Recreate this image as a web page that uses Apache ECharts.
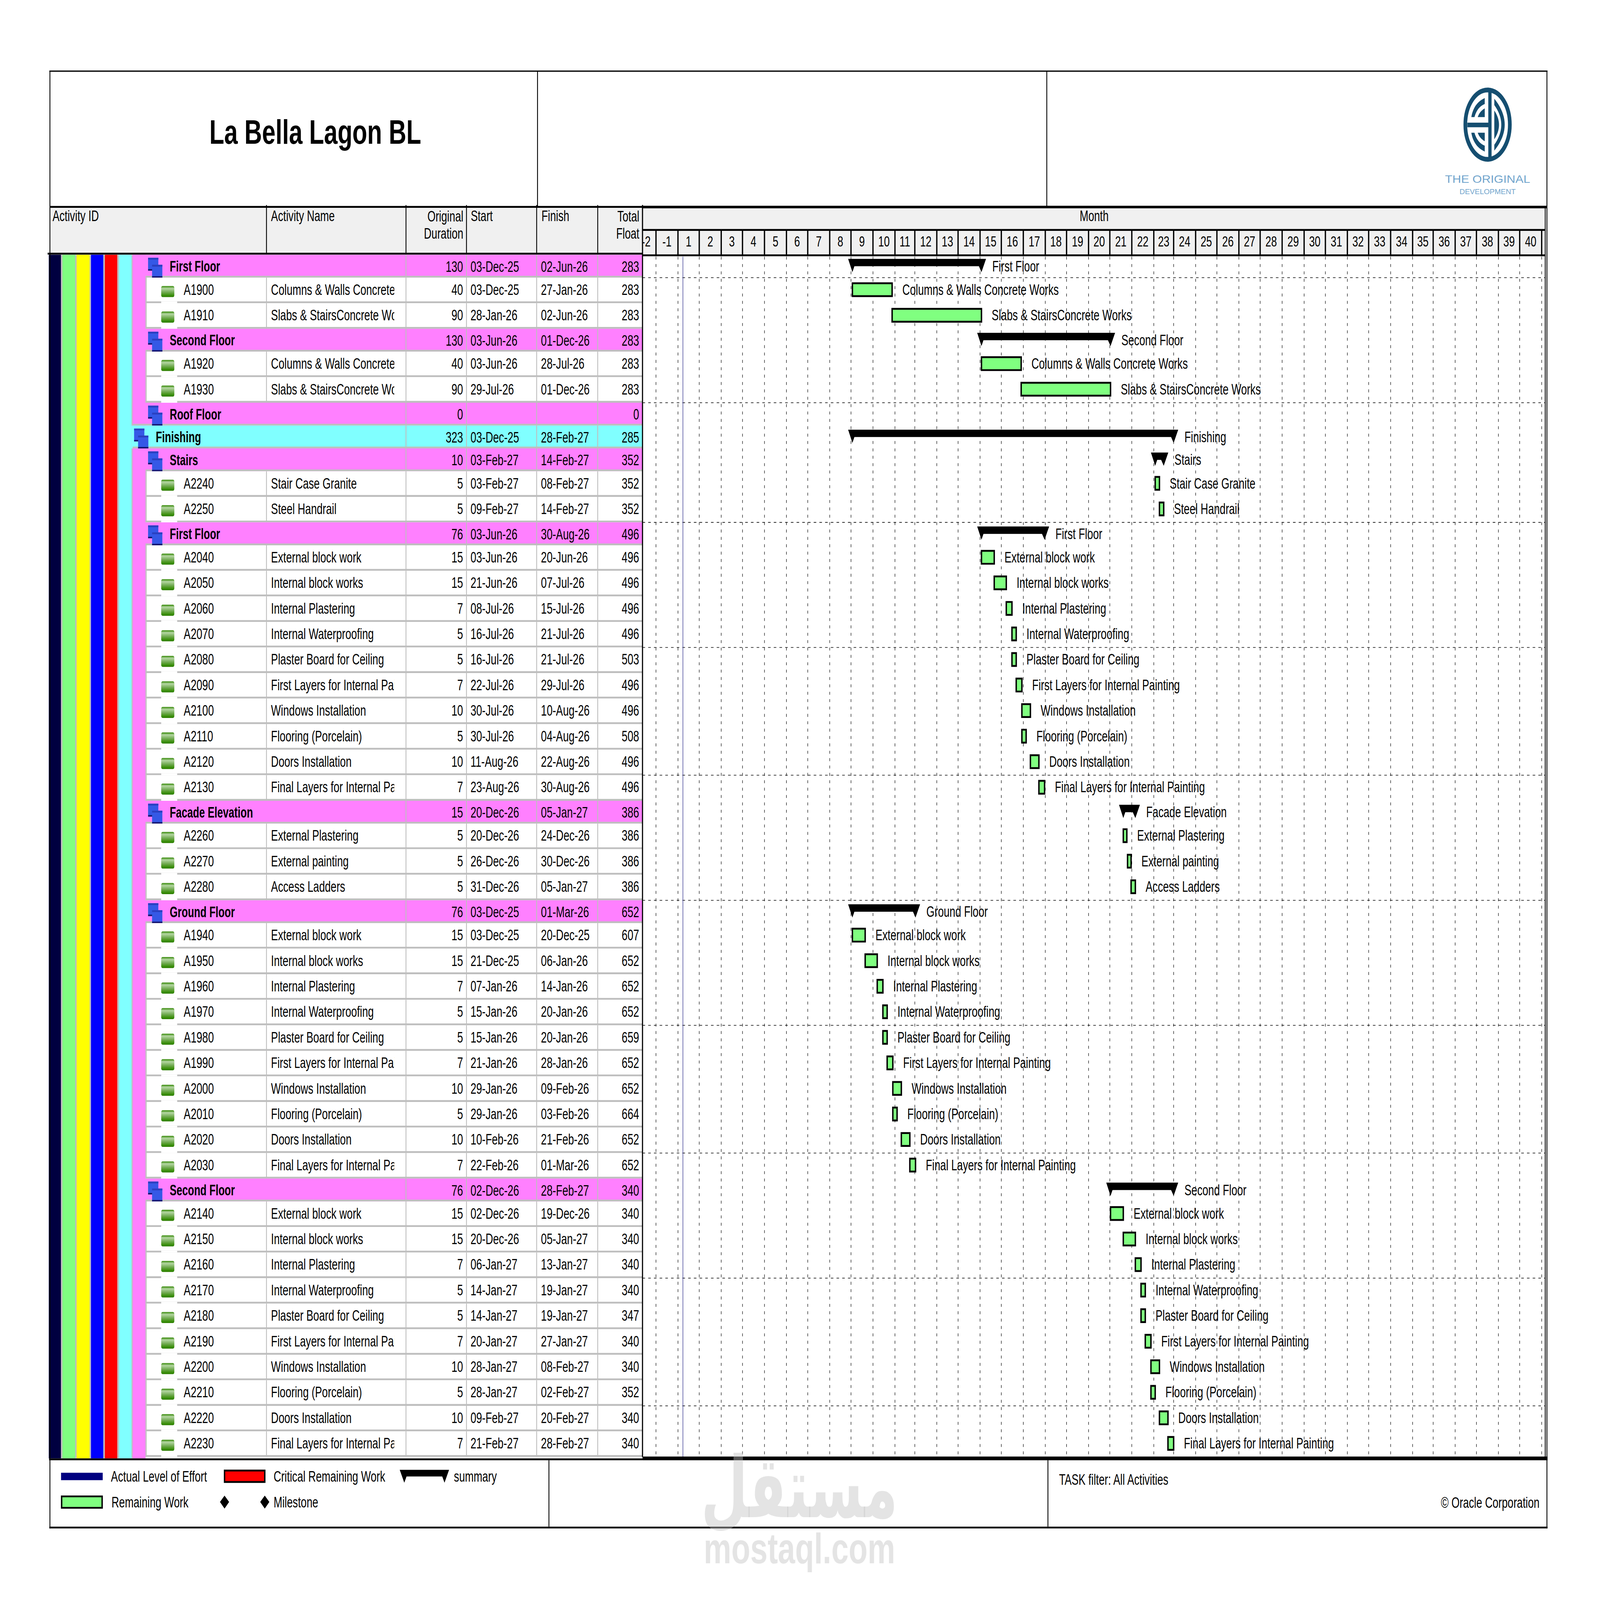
<!DOCTYPE html>
<html><head><meta charset="utf-8">
<style>html,body{margin:0;padding:0;background:#fff;overflow:hidden;width:100%;height:100%}#main{width:5608px;height:4339px;transform-origin:0 0}</style>
<script src="https://cdn.jsdelivr.net/npm/echarts@6/dist/echarts.min.js"></script>
</head><body><div id="main"></div>
<script>
// ---------- DATA ----------
const rowKinds = ['S','A','A','S','A','A','S','T','S','A','A','S','A','A','A','A','A','A','A','A','A','A','S','A','A','A','S','A','A','A','A','A','A','A','A','A','A','S','A','A','A','A','A','A','A','A','A','A'];
const activityIds = ['','A1900','A1910','','A1920','A1930','','','','A2240','A2250','','A2040','A2050','A2060','A2070','A2080','A2090','A2100','A2110','A2120','A2130','','A2260','A2270','A2280','','A1940','A1950','A1960','A1970','A1980','A1990','A2000','A2010','A2020','A2030','','A2140','A2150','A2160','A2170','A2180','A2190','A2200','A2210','A2220','A2230'];
const CW='Columns & Walls Concrete Works', SW='Slabs & StairsConcrete Works', EB='External block work', IB='Internal block works', IP='Internal Plastering', IW='Internal Waterproofing', PB='Plaster Board for Ceiling', FL='First Layers for Internal Painting', WI='Windows Installation', FP='Flooring (Porcelain)', DI='Doors Installation', LL='Final Layers for Internal Painting';
const activityNames = ['First Floor',CW,SW,'Second Floor',CW,SW,'Roof Floor','Finishing','Stairs','Stair Case Granite','Steel Handrail','First Floor',EB,IB,IP,IW,PB,FL,WI,FP,DI,LL,'Facade Elevation','External Plastering','External painting','Access Ladders','Ground Floor',EB,IB,IP,IW,PB,FL,WI,FP,DI,LL,'Second Floor',EB,IB,IP,IW,PB,FL,WI,FP,DI,LL];
const durations = [130,40,90,130,40,90,0,323,10,5,5,76,15,15,7,5,5,7,10,5,10,7,15,5,5,5,76,15,15,7,5,5,7,10,5,10,7,76,15,15,7,5,5,7,10,5,10,7];
const startDates = ['03-Dec-25','03-Dec-25','28-Jan-26','03-Jun-26','03-Jun-26','29-Jul-26','','03-Dec-25','03-Feb-27','03-Feb-27','09-Feb-27','03-Jun-26','03-Jun-26','21-Jun-26','08-Jul-26','16-Jul-26','16-Jul-26','22-Jul-26','30-Jul-26','30-Jul-26','11-Aug-26','23-Aug-26','20-Dec-26','20-Dec-26','26-Dec-26','31-Dec-26','03-Dec-25','03-Dec-25','21-Dec-25','07-Jan-26','15-Jan-26','15-Jan-26','21-Jan-26','29-Jan-26','29-Jan-26','10-Feb-26','22-Feb-26','02-Dec-26','02-Dec-26','20-Dec-26','06-Jan-27','14-Jan-27','14-Jan-27','20-Jan-27','28-Jan-27','28-Jan-27','09-Feb-27','21-Feb-27'];
const finishDates = ['02-Jun-26','27-Jan-26','02-Jun-26','01-Dec-26','28-Jul-26','01-Dec-26','','28-Feb-27','14-Feb-27','08-Feb-27','14-Feb-27','30-Aug-26','20-Jun-26','07-Jul-26','15-Jul-26','21-Jul-26','21-Jul-26','29-Jul-26','10-Aug-26','04-Aug-26','22-Aug-26','30-Aug-26','05-Jan-27','24-Dec-26','30-Dec-26','05-Jan-27','01-Mar-26','20-Dec-25','06-Jan-26','14-Jan-26','20-Jan-26','20-Jan-26','28-Jan-26','09-Feb-26','03-Feb-26','21-Feb-26','01-Mar-26','28-Feb-27','19-Dec-26','05-Jan-27','13-Jan-27','19-Jan-27','19-Jan-27','27-Jan-27','08-Feb-27','02-Feb-27','20-Feb-27','28-Feb-27'];
const totalFloats = [283,283,283,283,283,283,0,285,352,352,352,496,496,496,496,496,503,496,496,508,496,496,386,386,386,386,652,607,652,652,652,659,652,652,664,652,652,340,340,340,340,340,347,340,340,352,340,340];
const monthLabels = ['-2','-1'].concat(Array.from({length:40},(_, i)=>String(i+1))).concat(['']);
const firstMonth = [2025,1];            // February 2025
const axisStart = '2025-02-10', axisEnd = '2028-08-06', dataDate = '2025-04-08';
const bandColors = ['#000040','#80FF80','#FFFF00','#0000FF','#FF0000','#80FFFF','#FF80FF'];

// ---------- LAYOUT ----------
const PAGE_W=5608, PAGE_H=4339;
document.getElementById('main').style.transform='scale('+(window.innerWidth/PAGE_W)+','+(window.innerHeight/PAGE_H)+')';
const F='"Liberation Sans"', SX=0.87;
const GX0=2252, GX1=5416, TOP=691, BOT=3951;
const rowUnit = k => k==='A' ? 1 : 0.895;
const rowTops=[]; let acc=0; rowKinds.forEach(k=>{rowTops.push(acc); acc+=rowUnit(k);});
const totalUnits=acc;
const MON={Jan:0,Feb:1,Mar:2,Apr:3,May:4,Jun:5,Jul:6,Aug:7,Sep:8,Oct:9,Nov:10,Dec:11};
const parseD=s=>{const p=s.split('-');return Date.UTC(2000+ +p[2],MON[p[1]],+p[0]);};
const DAY=86400000;

function T(x,y,text,o){o=o||{};
  return {type:'text',x:x,y:y,scaleX:o.sx||SX,scaleY:o.sy||1,z:o.z,silent:true,style:{text:String(text),x:0,y:0,
    fill:o.fill||'#000',font:(o.bold?'bold ':'')+(o.size||42)+'px '+(o.family||F),
    textAlign:o.align||'left',textVerticalAlign:'middle',align:o.align||'left',verticalAlign:'middle'}};
}
const R=(x,y,w,h,fill,z)=>({type:'rect',z:z,silent:true,shape:{x:x,y:y,width:w,height:h},style:{fill:fill}});
const L=(x1,y1,x2,y2,w,c,z,dash)=>({type:'line',z:z,silent:true,shape:{x1,y1,x2,y2},style:{stroke:c||'#000',lineWidth:w,lineDash:dash||null}});
const hatPts=(x0,x1,c)=>[[x0-15,c-20],[x1+16,c-20],[x1,c+16],[x1-9,c],[x0+7,c],[x0,c+16]];

// ---------- TABLE ROWS ----------
const COLS={idEnd:934,nameEnd:1423,durEnd:1635,startEnd:1881,finEnd:2095};
function renderRow(params,api){
  const i=params.dataIndex,k=rowKinds[i];
  const y0=api.coord([api.value(0),rowTops[i]])[1], y1=api.coord([api.value(0),rowTops[i]+rowUnit(k)])[1];
  const c=(y0+y1)/2, ch=[], nextK=rowKinds[i+1];
  const GREY='#BEBEBE';
  if(k==='A'){
    ch.push(R(514,y0,GX0-514,y1-y0,'#fff'));
    ch.push(R(510,y0,4,y1-y0,GREY));
  }else if(k==='T'){
    ch.push(R(461,y0,GX0-461,y1-y0,bandColors[5]));
  }else{
    ch.push(R(465,y0,GX0-465,y1-y0,bandColors[6]));
  }
  const lineLeft=(nextK==='T'||k==='T')?465:510;
  ch.push(R(lineLeft,y1-5,GX0-lineLeft,5,GREY));
  if(k==='A') ch.push(L(COLS.idEnd,y0,COLS.idEnd,y1,3,GREY));
  [COLS.nameEnd,COLS.durEnd,COLS.startEnd,COLS.finEnd].forEach(x=>ch.push(L(x,y0,x,y1,3,GREY)));
  if(k==='A'){
    ch.push(R(565,y1-5,56,5,'#fff'));
    ch.push({type:'rect',silent:true,shape:{x:565,y:c-12,width:46,height:30,r:5},style:{fill:{type:'linear',x:0,y:0,x2:0,y2:1,colorStops:[{offset:0,color:'#2F8500'},{offset:.22,color:'#B4D6A2'},{offset:.55,color:'#74AC55'},{offset:.85,color:'#3A8F0A'},{offset:1,color:'#2C7C00'}]}}});
    ch.push(T(644,c-3,activityIds[i]));
    ch.push({type:'group',clipPath:{type:'rect',shape:{x:940,y:y0,width:442,height:y1-y0}},children:[T(950,c-3,activityNames[i])]});
  }else{
    const off=k==='T'?-49:0, txt=k==='T'?546:595;
    const sq=(x,y)=>[R(x,y,36,35,'#3558E6'),R(x,y,36,5,'#2A40C0'),R(x,y+31,36,4,'#14146E')];
    ch.push.apply(ch,sq(519+off,y0+8));
    ch.push.apply(ch,sq(533+off,y0+27));
    ch.push(T(txt,c,activityNames[i],{bold:true,sx:.85}));
  }
  const tc=k==='A'?c-3:c;
  ch.push(T(1623,tc,durations[i],{align:'right'}));
  if(startDates[i]) ch.push(T(1649,tc,startDates[i]));
  if(finishDates[i]) ch.push(T(1896,tc,finishDates[i]));
  ch.push(T(2240,tc,totalFloats[i],{align:'right'}));
  return {type:'group',children:ch};
}

// ---------- BARS ----------
function renderBar(params,api){
  const i=api.value(2),k=rowKinds[i];
  const s=api.coord([api.value(0),rowTops[i]])[0], e=api.coord([api.value(1)+DAY,rowTops[i]])[0];
  const c=api.coord([api.value(0),rowTops[i]+rowUnit(k)/2])[1];
  const ch=[];
  if(k==='A'){
    ch.push({type:'rect',silent:true,shape:{x:s,y:c-19.5,width:e-s,height:35},style:{fill:'#80FF80',stroke:'#000',lineWidth:5}});
    ch.push(T(e+36,c-3,activityNames[i]));
  }else{
    ch.push({type:'polygon',silent:true,shape:{points:hatPts(s,e,c)},style:{fill:'#000'}});
    ch.push(T(e+38,c-1,activityNames[i]));
  }
  return {type:'group',children:ch};
}

// ---------- MONTH COLUMNS ----------
const monthStarts=monthLabels.map((_,i)=>Date.UTC(firstMonth[0],firstMonth[1]+i,1));
function renderMonth(params,api){
  const i=params.dataIndex;
  const x=api.coord([monthStarts[i],0])[0];
  const next=api.coord([Date.UTC(firstMonth[0],firstMonth[1]+i+1,1),0])[0];
  const ch=[];
  if(x>GX0+1 && x<GX1){
    ch.push(L(x,626,x,692,4.5,'#000'));
    ch.push(L(x,696,x,BOT,1.6,'#000',undefined,[8,12]));
  }
  if(monthLabels[i]) ch.push({type:'group',clipPath:{type:'rect',shape:{x:GX0+2,y:626,width:GX1-GX0,height:64}},children:[T((x+next)/2,655,monthLabels[i],{size:40,align:'center',sx:.9})]});
  return {type:'group',children:ch};
}
function renderSight(params,api){
  const y=api.coord([api.value(0),api.value(1)])[1];
  return L(GX0,y,GX1,y,1.6,'#000',undefined,[9,11]);
}
function renderDataDate(params,api){
  const x=api.coord([api.value(0),0])[0];
  return L(x,696,x,BOT,1.6,'#1A1A80');
}

// ---------- FRAME, HEADERS, LEGEND (page furniture) ----------
const g=[];
g.push(R(177,563,GX0-177,124,'#F0F0F0',1), R(GX0,563,GX1-GX0,128,'#F0F0F0',1));
const bandX=[[171,213.5],[219,263.5],[268.5,314],[319,362],[367.5,411],[417,461],[465,510]];
g.push(R(171,TOP,339,3955-TOP,'#BEBEBE',1));
bandX.forEach((b,i)=>g.push(R(b[0],TOP,b[1]-b[0],3955-TOP,bandColors[i],2)));
[[175,193,175,4145,3],[5422,193,5422,4145,3],[173,193,5424,193,3.5],[1884,193,1884,561,3],[3669,193,3669,561,3],
 [175,561,GX0,561,5],[GX0,561.5,5422,561.5,7],[167,688,GX0,688,5],[GX0,623.5,GX1,623.5,5],[GX0,692.5,GX1,692.5,5],
 [GX0,556,GX0,BOT,4],[GX1,563,GX1,BOT,3],
 [934,556,934,688,3],[1423,556,1423,688,3],[1635,556,1635,688,3],[1881,556,1881,688,3],[2095,556,2095,688,3],
 [172,3957.5,GX0,3957.5,5],[GX0,3955,5424,3955,10],[173,4142.5,5424,4142.5,5],[1924,3960,1924,4140,3],[3673,3960,3673,4140,3]
].forEach(a=>g.push(L(a[0],a[1],a[2],a[3],a[4],'#000',20)));
g.push(T(1105,358,'La Bella Lagon BL',{bold:true,size:92,align:'center',sx:.925,z:20}));
[[184,585,'Activity ID'],[950,585,'Activity Name'],[1650,585,'Start'],[1898,585,'Finish']].forEach(a=>g.push(T(a[0],a[1],a[2],{z:20})));
[[1624,586,'Original'],[1624,632,'Duration'],[2241,586,'Total'],[2241,632,'Float']].forEach(a=>g.push(T(a[0],a[1],a[2],{align:'right',z:20})));
g.push(T(3835,585,'Month',{align:'center',z:20}));
g.push(R(214,3994,146,20,'#000080',20));
g.push({type:'rect',z:20,silent:true,shape:{x:787,y:3988,width:141,height:31},style:{fill:'#FF0000',stroke:'#000',lineWidth:5}});
g.push({type:'polygon',z:20,silent:true,shape:{points:[[1401,3986],[1574,3986],[1558,4021],[1550,4004],[1425,4004],[1417,4021]]},style:{fill:'#000'}});
g.push({type:'rect',z:20,silent:true,shape:{x:216,y:4058,width:142,height:31},style:{fill:'#80FF80',stroke:'#000',lineWidth:5}});
[787,928].forEach(x=>g.push({type:'polygon',z:20,silent:true,shape:{points:[[x,4056],[x+16,4073],[x,4091],[x-16,4073]]},style:{fill:'#000'}}));
[[389,4003,'Actual Level of Effort'],[959,4003,'Critical Remaining Work'],[1591,4003,'summary'],[391,4073,'Remaining Work'],[959,4073,'Milestone'],[3712,4012,'TASK filter: All Activities']].forEach(a=>g.push(T(a[0],a[1],a[2],{z:20})));
g.push(T(5396,4074,'© Oracle Corporation',{align:'right',z:20}));
// logo
const LOGO='#154E70';
const curve=(p0,c,p1)=>{const o=[];for(let k=0;k<=20;k++){const t=k/20,u=1-t;o.push([u*u*p0[0]+2*u*t*c[0]+t*t*p1[0],u*u*p0[1]+2*u*t*c[1]+t*t*p1[1]]);}return o;};
const poly=pts=>({type:'polygon',z:20,silent:true,shape:{points:pts},style:{fill:LOGO}});
g.push({type:'ellipse',z:20,silent:true,shape:{cx:5214,cy:338,rx:78,ry:94},style:{fill:'#fff',stroke:LOGO,lineWidth:13}});
g.push(R(5216.5,240,11.5,196,LOGO,20), R(5143,332.5,74,12.5,LOGO,20));
g.push(poly(curve([5157,317.5],[5165,280],[5204,266]).concat(curve([5204,282],[5178,290],[5168,317.5]))));
g.push(poly(curve([5179.5,317.5],[5186,302],[5204,294]).concat([[5204,317.5]])));
g.push(poly(curve([5157,359.9],[5165,397],[5204,411]).concat(curve([5204,395],[5178,387],[5168,359.9]))));
g.push(poly(curve([5179.5,359.9],[5186,375],[5204,383]).concat([[5204,359.9]])));
g.push(poly(curve([5237.5,267.5],[5310.5,338],[5237.5,408.6]).concat(curve([5237.5,392.5],[5286.5,338],[5237.5,285]))));
g.push(poly(curve([5237.5,299.6],[5270.5,338],[5237.5,378])));
g.push(T(5214,485,'THE ORIGINAL',{size:30,align:'center',sx:1.41,fill:'#70A4CC',z:20}));
g.push(T(5214,520,'DEVELOPMENT',{size:19,align:'center',sx:1.37,fill:'#70A4CC',z:20}));
// watermark
const WM='rgba(193,193,193,0.44)';
g.push(T(2802,4035,'مستقل',{size:230,bold:true,family:'"DejaVu Sans"',align:'center',sx:.82,fill:WM,z:100}));
g.push(T(2802,4200,'mostaql.com',{size:115,bold:true,align:'center',sx:.946,fill:WM,z:100}));

// ---------- CHART ----------
const barData=[]; rowKinds.forEach((k,i)=>{ if(startDates[i]) barData.push([parseD(startDates[i]),parseD(finishDates[i]),i]); });
const sightData=[]; rowKinds.forEach((k,i)=>{ if(i%5===0) sightData.push([parseD('01-Jan-26'),rowTops[i]+rowUnit(k)]); });

const chart=echarts.init(document.getElementById('main'),null,{renderer:'svg',width:PAGE_W,height:PAGE_H});
const ax={xAxisIndex:0,yAxisIndex:0,coordinateSystem:'cartesian2d',silent:true,animation:false,clip:false};
chart.setOption({
  animation:false,backgroundColor:'#fff',
  grid:{left:GX0,top:TOP,width:GX1-GX0,height:BOT-TOP,containLabel:false},
  xAxis:{type:'time',min:Date.parse(axisStart),max:Date.parse(axisEnd),show:false},
  yAxis:{type:'value',inverse:true,min:0,max:totalUnits,show:false},
  graphic:{elements:g},
  series:[
    Object.assign({type:'custom',name:'months',z:3,renderItem:renderMonth,data:monthStarts.map(t=>[t,0])},ax),
    Object.assign({type:'custom',name:'sight lines',z:3,renderItem:renderSight,data:sightData},ax),
    Object.assign({type:'custom',name:'data date',z:3,renderItem:renderDataDate,data:[[Date.parse(dataDate),0]]},ax),
    Object.assign({type:'custom',name:'table',z:5,renderItem:renderRow,data:rowKinds.map((k,i)=>[parseD('01-Jan-26'),rowTops[i]])},ax),
    Object.assign({type:'custom',name:'bars',z:6,renderItem:renderBar,data:barData,encode:{x:[0,1],y:2}},ax)
  ]
});
</script></body></html>
